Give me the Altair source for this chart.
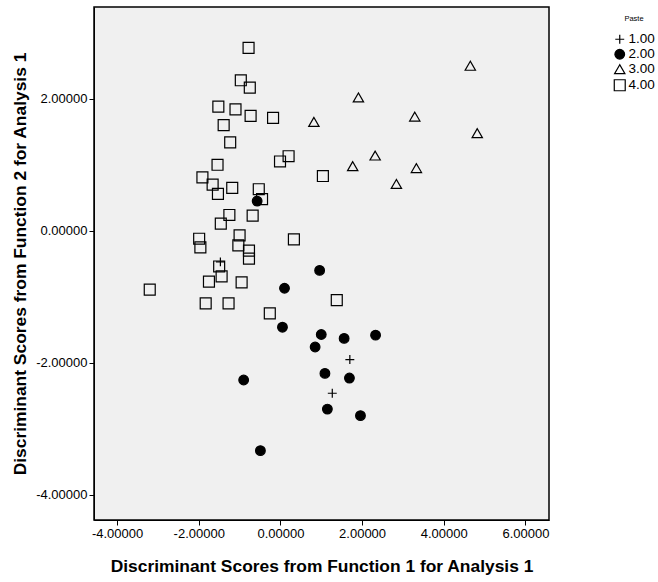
import altair as alt
import pandas as pd

sq_x = [-0.78,-0.97,-0.75,-1.52,-1.10,-0.73,-0.18,-1.39,-1.23,0.20,-0.01,-1.54,1.04,-1.91,-1.66,-1.18,-1.53,-0.53,-0.45,-1.25,-0.68,-1.46,-1.00,-1.99,0.33,-1.96,-1.03,-0.77,-0.77,-1.50,-1.44,-1.75,-0.95,-3.20,-1.83,-1.27,-0.26,1.38]
sq_y = [2.77,2.28,2.17,1.88,1.84,1.74,1.71,1.60,1.34,1.13,1.05,1.00,0.83,0.81,0.70,0.65,0.56,0.63,0.48,0.24,0.23,0.11,-0.07,-0.12,-0.13,-0.25,-0.22,-0.30,-0.42,-0.54,-0.69,-0.77,-0.78,-0.89,-1.10,-1.10,-1.25,-1.05]
ci_x = [-0.57,0.96,0.10,0.05,1.00,1.56,2.33,0.85,1.09,1.69,-0.90,1.15,1.96,-0.49]
ci_y = [0.45,-0.60,-0.87,-1.46,-1.57,-1.63,-1.58,-1.76,-2.16,-2.23,-2.26,-2.70,-2.80,-3.33]
cr_x = [-1.47,1.70,1.27]
cr_y = [-0.47,-1.95,-2.46]
tr_x = [4.65,1.91,0.82,3.29,4.82,2.32,1.77,3.33,2.84]
tr_y = [2.50,2.02,1.65,1.73,1.48,1.14,0.98,0.95,0.71]
groups = ["1.00","2.00","3.00","4.00"]

rows = []
for g, xs, ys in [("1.00", cr_x, cr_y), ("2.00", ci_x, ci_y), ("3.00", tr_x, tr_y), ("4.00", sq_x, sq_y)]:
    for a, b in zip(xs, ys):
        rows.append({"f1": a, "f2": b, "Paste": g})
df = pd.DataFrame(rows)

lbl = "replace(format(datum.value, '.5f'), '\u2212', '-')"
ax_common = dict(labelExpr=lbl, grid=False, tickSize=5, labelFontSize=13, titleFontSize=17.4,
                 titleFontWeight="bold", labelColor="black", titleColor="black",
                 domainColor="black", tickColor="black",
                 labelFont="Liberation Sans", titleFont="Liberation Sans")

chart = alt.Chart(df).mark_point(strokeWidth=1.2, opacity=1, size=90).encode(
    x=alt.X("f1:Q", title="Discriminant Scores from Function 1 for Analysis 1",
            scale=alt.Scale(domain=[-4.565, 6.577], nice=False, zero=False),
            axis=alt.Axis(values=[-4, -2, 0, 2, 4, 6], titlePadding=17, **ax_common)),
    y=alt.Y("f2:Q", title="Discriminant Scores from Function 2 for Analysis 1",
            scale=alt.Scale(domain=[-4.38, 3.39], nice=False, zero=False),
            axis=alt.Axis(values=[-4, -2, 0, 2], titlePadding=6, **ax_common)),
    shape=alt.Shape("Paste:N", scale=alt.Scale(domain=groups,
                    range=["M-1,0L1,0M0,-1L0,1", "circle", "triangle-up", "square"])),
    fill=alt.Fill("Paste:N", scale=alt.Scale(domain=groups,
                  range=["transparent", "black", "transparent", "transparent"])),
    stroke=alt.Stroke("Paste:N", scale=alt.Scale(domain=groups,
                  range=["black", "black", "black", "black"])),
    size=alt.Size("Paste:N", scale=alt.Scale(domain=groups, range=[80, 120, 50, 80])),
).properties(width=455, height=513, padding={"left": 94, "top": 7, "right": 109, "bottom": 62},
             autosize=alt.AutoSizeParams(type="none")
).configure_view(fill="#f0f0f0", stroke="black", strokeWidth=1.5
).configure_legend(orient="none", legendX=519, legendY=8, titleFontSize=7.5, titleFontWeight="normal",
                   labelFontSize=13.5, titleColor="black", labelColor="black",
                   titleFont="Liberation Sans", labelFont="Liberation Sans",
                   rowPadding=0, labelOffset=2, symbolStrokeWidth=1.2,
                   titleAnchor="middle", titlePadding=10)

chart.save("out.html", embed_options={"renderer": "svg", "actions": False})
